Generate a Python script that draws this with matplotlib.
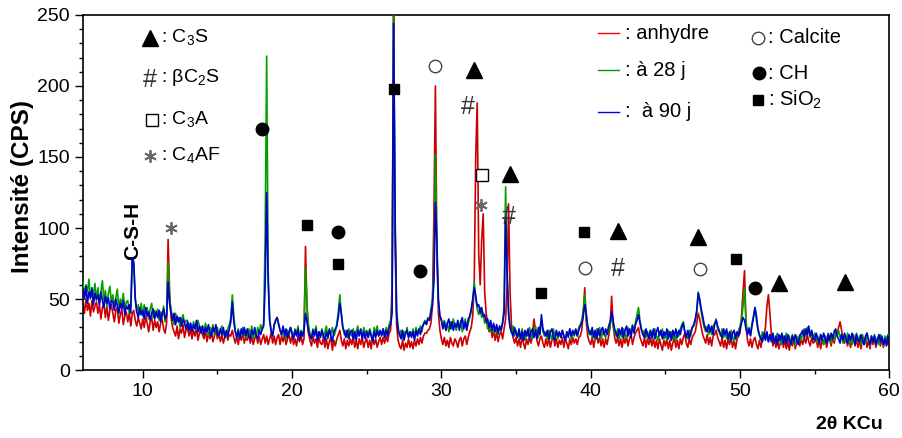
import matplotlib
matplotlib.use("Agg")
import matplotlib.pyplot as plt
import numpy as np

plt.rcParams['font.family'] = ['Liberation Sans', 'DejaVu Sans']
plt.rcParams['mathtext.fontset'] = 'custom'
plt.rcParams['mathtext.rm'] = 'Liberation Sans'

# diffractograms, one value every 0.1 deg from 6 to 60 deg (2 theta)
two_theta = np.linspace(6, 60, 541)

anhydre = [
    47, 40, 50, 42, 47, 38, 49, 41, 45, 48,
    40, 46, 36, 44, 47, 37, 45, 35, 42, 46,
    40, 34, 42, 44, 33, 39, 43, 32, 38, 41,
    34, 40, 31, 40, 42, 35, 31, 37, 33, 29,
    36, 30, 38, 33, 27, 34, 37, 28, 35, 30,
    34, 27, 33, 36, 29, 26, 33, 92, 55, 37,
    30, 27, 24, 31, 22, 29, 26, 32, 23, 28,
    30, 24, 29, 22, 28, 24, 30, 21, 26, 29,
    25, 22, 28, 20, 26, 22, 27, 20, 24, 28,
    22, 26, 20, 25, 19, 23, 27, 21, 25, 24,
    28, 23, 19, 24, 18, 25, 21, 26, 19, 23,
    21, 26, 19, 24, 18, 22, 25, 19, 24, 18,
    22, 25, 19, 24, 18, 22, 26, 19, 24, 18,
    23, 25, 18, 24, 20, 25, 18, 22, 25, 19,
    24, 18, 22, 17, 24, 20, 25, 18, 22, 87,
    45, 26, 21, 17, 24, 19, 22, 16, 23, 19,
    18, 23, 16, 22, 15, 20, 23, 14, 21, 17,
    22, 25, 28, 21, 17, 22, 15, 21, 17, 22,
    18, 23, 16, 21, 15, 22, 18, 23, 16, 20,
    22, 16, 21, 15, 23, 18, 22, 16, 20, 23,
    18, 23, 19, 24, 20, 26, 28, 60, 262, 90,
    32, 21, 17, 15, 21, 14, 19, 16, 22, 16,
    20, 15, 21, 17, 22, 18, 23, 19, 24, 26,
    26, 28, 29, 33, 45, 110, 200, 85, 40, 28,
    22, 18, 23, 17, 21, 16, 23, 19, 17, 22,
    20, 16, 21, 23, 17, 22, 24, 18, 23, 27,
    30, 38, 62, 150, 188, 82, 60, 92, 110, 55,
    40, 33, 27, 31, 23, 28, 21, 27, 20, 25,
    27, 22, 29, 36, 60, 117, 55, 30, 23, 19,
    23, 17, 22, 16, 23, 19, 15, 22, 18, 23,
    19, 25, 36, 28, 21, 17, 22, 24, 19, 16,
    22, 17, 23, 16, 21, 24, 17, 22, 16, 21,
    18, 23, 16, 22, 19, 15, 22, 18, 23, 19,
    22, 18, 23, 24, 28, 40, 58, 34, 24, 20,
    18, 23, 16, 22, 25, 19, 23, 17, 22, 16,
    22, 18, 24, 30, 52, 32, 23, 19, 23, 17,
    22, 16, 23, 19, 24, 17, 22, 25, 18, 23,
    26, 28, 30, 23, 20, 17, 23, 16, 22, 18,
    23, 17, 22, 16, 21, 15, 22, 18, 14, 21,
    17, 22, 15, 21, 14, 19, 23, 16, 21, 15,
    22, 18, 23, 26, 19, 16, 22, 18, 23, 25,
    27, 33, 40, 36, 30, 25, 22, 19, 25, 18,
    23, 17, 24, 25, 28, 23, 20, 17, 23, 16,
    21, 15, 22, 18, 23, 16, 21, 15, 22, 24,
    26, 38, 55, 70, 32, 21, 17, 22, 16, 21,
    23, 18, 15, 21, 16, 22, 24, 30, 45, 53,
    40, 25, 17, 22, 16, 21, 15, 19, 22, 16,
    21, 15, 20, 14, 21, 17, 22, 15, 20, 21,
    17, 22, 18, 23, 19, 25, 20, 17, 23, 19,
    20, 22, 16, 21, 15, 22, 18, 23, 16, 21,
    22, 17, 23, 19, 24, 26, 30, 34, 28, 22,
    19, 23, 17, 22, 16, 21, 23, 17, 22, 16,
    21, 15, 22, 18, 23, 16, 21, 15, 22, 18,
    22, 16, 21, 23, 17, 22, 16, 21, 23, 18,
    20,
]

a_28j = [
    62, 52, 60, 55, 64, 50, 57, 53, 61, 49,
    58, 47, 55, 63, 49, 56, 45, 54, 59, 48,
    53, 44, 51, 57, 43, 50, 46, 54, 42, 48,
    49, 40, 47, 79, 74, 51, 41, 46, 39, 47,
    38, 46, 40, 44, 36, 43, 47, 37, 42, 39,
    43, 35, 41, 37, 45, 34, 40, 76, 50, 42,
    38, 32, 40, 34, 37, 30, 36, 39, 33, 35,
    35, 29, 33, 27, 34, 30, 28, 35, 31, 29,
    31, 26, 33, 28, 24, 30, 27, 32, 25, 29,
    30, 24, 28, 31, 25, 27, 23, 29, 32, 37,
    53, 38, 27, 24, 29, 22, 27, 30, 24, 28,
    23, 29, 25, 31, 22, 27, 24, 30, 26, 32,
    28, 33, 95, 221, 70, 36, 28, 25, 31, 35,
    37, 33, 28, 24, 30, 26, 22, 28, 25, 30,
    27, 23, 29, 25, 31, 22, 28, 24, 30, 72,
    45, 32, 26, 22, 29, 25, 31, 23, 27, 24,
    29, 23, 27, 31, 22, 28, 25, 30, 24, 27,
    33, 41, 53, 39, 30, 25, 28, 23, 29, 26,
    24, 29, 22, 27, 31, 25, 28, 23, 30, 26,
    28, 23, 29, 25, 22, 30, 26, 31, 24, 27,
    25, 29, 24, 30, 26, 32, 35, 48, 255, 100,
    42, 31, 24, 28, 22, 27, 25, 30, 23, 27,
    25, 29, 23, 30, 26, 28, 31, 27, 33, 35,
    33, 37, 36, 43, 50, 70, 152, 80, 48, 38,
    36, 30, 35, 28, 33, 27, 34, 29, 36, 31,
    28, 34, 30, 35, 27, 32, 36, 29, 33, 37,
    41, 49, 62, 51, 43, 39, 44, 37, 40, 33,
    35, 29, 33, 27, 31, 26, 30, 28, 25, 31,
    28, 34, 45, 129, 66, 42, 30, 26, 31, 24,
    28, 23, 27, 22, 29, 25, 21, 27, 24, 30,
    25, 22, 28, 31, 26, 23, 30, 34, 27, 24,
    27, 22, 28, 25, 21, 29, 24, 27, 22, 26,
    23, 28, 24, 21, 27, 25, 29, 22, 26, 24,
    28, 24, 30, 32, 35, 42, 53, 38, 29, 25,
    28, 23, 27, 21, 29, 25, 30, 22, 27, 25,
    23, 28, 26, 33, 37, 31, 27, 24, 29, 22,
    27, 23, 29, 25, 22, 30, 26, 28, 32, 27,
    34, 39, 44, 35, 29, 25, 28, 23, 27, 24,
    28, 22, 26, 29, 24, 21, 27, 25, 29, 22,
    25, 21, 28, 24, 27, 22, 26, 20, 27, 24,
    29, 32, 34, 27, 24, 22, 28, 24, 30, 31,
    34, 40, 55, 48, 41, 35, 30, 27, 31, 25,
    29, 25, 31, 33, 36, 29, 27, 24, 29, 23,
    27, 22, 26, 21, 28, 24, 20, 26, 23, 28,
    31, 36, 45, 58, 34, 26, 30, 25, 33, 38,
    44, 35, 28, 24, 21, 27, 22, 26, 23, 20,
    25, 21, 24, 19, 23, 26, 20, 24, 18, 24,
    21, 26, 20, 24, 18, 25, 22, 17, 24, 21,
    25, 21, 27, 29, 24, 30, 27, 23, 27, 22,
    26, 20, 24, 19, 25, 22, 18, 24, 21, 26,
    23, 19, 25, 21, 27, 24, 28, 23, 25, 19,
    25, 20, 26, 19, 23, 18, 25, 21, 26, 20,
    24, 18, 25, 21, 19, 26, 22, 17, 24, 20,
    25, 19, 23, 18, 25, 21, 17, 24, 20, 25,
    22,
]

a_90j = [
    57, 50, 59, 47, 55, 51, 58, 46, 54, 50,
    53, 46, 55, 49, 44, 52, 47, 51, 43, 49,
    48, 42, 50, 45, 40, 47, 43, 49, 39, 45,
    43, 46, 40, 79, 76, 50, 41, 37, 44, 39,
    42, 36, 44, 38, 41, 35, 40, 43, 36, 41,
    37, 42, 34, 40, 43, 36, 38, 62, 47, 40,
    35, 40, 32, 38, 34, 37, 31, 36, 33, 29,
    34, 28, 33, 27, 32, 29, 35, 27, 31, 26,
    31, 25, 30, 27, 32, 26, 24, 30, 27, 32,
    26, 24, 29, 25, 30, 23, 28, 24, 29, 34,
    48, 34, 27, 23, 28, 22, 29, 25, 30, 24,
    29, 24, 22, 28, 25, 30, 24, 22, 28, 25,
    29, 31, 60, 125, 62, 35, 27, 24, 32, 35,
    37, 32, 28, 25, 31, 24, 29, 23, 27, 30,
    25, 22, 28, 24, 29, 21, 27, 24, 28, 40,
    34, 27, 24, 22, 28, 24, 29, 21, 27, 23,
    28, 24, 21, 27, 23, 29, 24, 20, 27, 29,
    31, 38, 47, 40, 30, 27, 23, 28, 22, 27,
    28, 22, 27, 21, 28, 24, 29, 22, 27, 22,
    27, 23, 28, 24, 20, 27, 23, 28, 24, 28,
    24, 29, 23, 28, 24, 30, 32, 40, 244, 110,
    40, 28, 25, 22, 28, 21, 26, 28, 23, 27,
    23, 27, 21, 28, 24, 29, 25, 30, 32, 34,
    32, 36, 35, 40, 46, 62, 118, 90, 50, 38,
    35, 29, 34, 28, 33, 36, 29, 34, 28, 33,
    30, 35, 28, 33, 37, 29, 34, 28, 36, 38,
    43, 50, 58, 52, 45, 46, 40, 44, 38, 39,
    34, 36, 30, 35, 28, 33, 27, 32, 26, 31,
    28, 33, 40, 108, 70, 39, 30, 27, 24, 30,
    26, 23, 29, 22, 27, 21, 28, 24, 29, 22,
    27, 29, 23, 28, 22, 30, 25, 39, 29, 26,
    24, 28, 22, 27, 29, 23, 21, 28, 24, 27,
    23, 28, 24, 21, 27, 23, 29, 24, 28, 25,
    29, 24, 28, 31, 33, 38, 46, 40, 31, 27,
    25, 30, 23, 28, 22, 29, 24, 28, 30, 25,
    29, 25, 31, 34, 41, 35, 29, 26, 23, 29,
    25, 30, 23, 28, 31, 24, 29, 23, 31, 26,
    32, 35, 39, 33, 28, 25, 23, 29, 25, 22,
    28, 23, 29, 22, 27, 30, 24, 28, 22, 27,
    24, 29, 22, 27, 21, 28, 24, 29, 23, 28,
    25, 30, 33, 27, 23, 28, 22, 27, 30, 32,
    36, 42, 54, 50, 43, 38, 32, 29, 27, 32,
    27, 31, 25, 32, 35, 31, 28, 25, 23, 29,
    25, 29, 22, 27, 21, 26, 28, 22, 27, 24,
    29, 33, 37, 35, 29, 25, 29, 24, 31, 37,
    44, 38, 29, 25, 22, 20, 26, 21, 27, 20,
    25, 20, 26, 19, 24, 18, 25, 21, 26, 19,
    24, 19, 25, 21, 18, 24, 20, 25, 21, 18,
    24, 26, 28, 23, 29, 25, 31, 24, 28, 22,
    21, 26, 22, 19, 25, 21, 26, 22, 19, 25,
    21, 26, 22, 27, 29, 24, 22, 19, 25, 21,
    26, 22, 19, 25, 21, 26, 22, 18, 25, 21,
    20, 25, 21, 18, 24, 26, 21, 18, 24, 20,
    24, 18, 21, 25, 20, 24, 18, 22, 17, 24,
    21,
]

# phase markers above the peaks
c3s_x = [32.2, 34.6, 41.8, 47.2, 52.6, 57.0]
c3s_y = [211, 138, 98, 94, 61, 62]
c2s_x = [31.8, 34.5, 41.8]
c2s_y = [187, 110, 73]
c3a_x = [32.7]
c3a_y = [137]
c4af_x = [11.9, 32.65]
c4af_y = [100, 116]
calcite_x = [29.6, 39.6, 47.3]
calcite_y = [214, 72, 71]
ch_x = [18.0, 23.05, 28.6, 51.0]
ch_y = [170, 97, 70, 58]
sio2_x = [20.97, 23.05, 26.8, 36.7, 39.55, 49.76]
sio2_y = [102, 75, 198, 54, 97, 78]

fig = plt.figure(figsize=(9.02, 4.38), dpi=100)
ax = fig.add_axes([0.092, 0.155, 0.894, 0.811])

ax.plot(two_theta, anhydre, color="#cc0000", lw=1.2, zorder=2)
ax.plot(two_theta, a_28j, color="#00a000", lw=1.2, zorder=3)
ax.plot(two_theta, a_90j, color="#0000cc", lw=1.2, zorder=4)

# marker styles
tri = dict(marker="^", ms=11, color="black", ls="none", zorder=6)
dot = dict(marker="o", ms=9, color="black", ls="none", zorder=6)
sq = dict(marker="s", ms=7.5, color="black", ls="none", zorder=6)
ring = dict(marker="o", ms=9, mfc="white", mec="#444444", mew=1.0, ls="none", zorder=6)
box = dict(marker="s", ms=8, mfc="white", mec="black", mew=1.0, ls="none", zorder=6)
star = dict(marker=(6, 2, 0), ms=9, color="#666666", mew=1.3, ls="none", zorder=6)


def hash_mark(x, y):
    ax.text(x, y - 2, "#", ha="center", va="center", fontsize=18,
            color="#333333", zorder=6)


ax.plot(c3s_x, c3s_y, **tri)
for x, y in zip(c2s_x, c2s_y):
    hash_mark(x, y)
ax.plot(c3a_x, c3a_y, **box)
ax.plot(c4af_x, c4af_y, **star)
ax.plot(calcite_x, calcite_y, **ring)
ax.plot(ch_x, ch_y, **dot)
ax.plot(sio2_x, sio2_y, **sq)

ax.text(9.35, 98, "C-S-H", rotation=90, ha="center", va="center",
        fontsize=15, fontweight="bold")

# key for the phases (left)
fs = 14
ax.plot(10.5, 234, **tri)
ax.text(11.2, 234, r": C$_\mathregular{3}$S", va="center", fontsize=fs)
hash_mark(10.5, 206)
ax.text(11.2, 206, r": βC$_\mathregular{2}$S", va="center", fontsize=fs)
ax.plot(10.6, 176, **box)
ax.text(11.2, 176, r": C$_\mathregular{3}$A", va="center", fontsize=fs)
ax.plot(10.5, 151, **star)
ax.text(11.2, 151, r": C$_\mathregular{4}$AF", va="center", fontsize=fs)

# key for the curves and the hydrates (right)
fs2 = 14.5
ax.plot([40.5, 41.9], [237, 237], color="#ff0000", lw=1.0)
ax.text(42.3, 237, ": anhydre", va="center", fontsize=fs2)
ax.plot([40.5, 41.9], [211, 211], color="#00a000", lw=1.0)
ax.text(42.3, 211, ": à 28 j", va="center", fontsize=fs2)
ax.plot([40.5, 41.9], [182, 182], color="#0000ff", lw=1.0)
ax.text(42.3, 182, ":  à 90 j", va="center", fontsize=fs2)
ax.plot(51.2, 234, **ring)
ax.text(51.9, 234, ": Calcite", va="center", fontsize=fs2)
ax.plot(51.3, 209, **dot)
ax.text(51.9, 209, ": CH", va="center", fontsize=fs2)
ax.plot(51.2, 190, **sq)
ax.text(51.9, 190, r": SiO$_\mathregular{2}$", va="center", fontsize=fs2)

ax.set_xlim(6, 60)
ax.set_ylim(0, 250)
ax.set_xticks([10, 20, 30, 40, 50, 60])
ax.set_xticks([15, 25, 35, 45, 55], minor=True)
ax.set_yticks([0, 50, 100, 150, 200, 250])
ax.set_yticks(np.arange(10, 250, 10), minor=True)
ax.tick_params(which="major", direction="out", length=6, width=1, labelsize=14)
ax.tick_params(which="minor", direction="out", length=3, width=1)
for s in ax.spines.values():
    s.set_linewidth(1.2)

fig.text(0.025, 0.575, "Intensité (CPS)", rotation=90, ha="center", va="center",
         fontsize=17.5, fontweight="bold")
fig.text(0.942, 0.03, "2θ KCu", ha="center", va="center", fontsize=14,
         fontweight="bold")

fig.savefig("out.png", dpi=100)
